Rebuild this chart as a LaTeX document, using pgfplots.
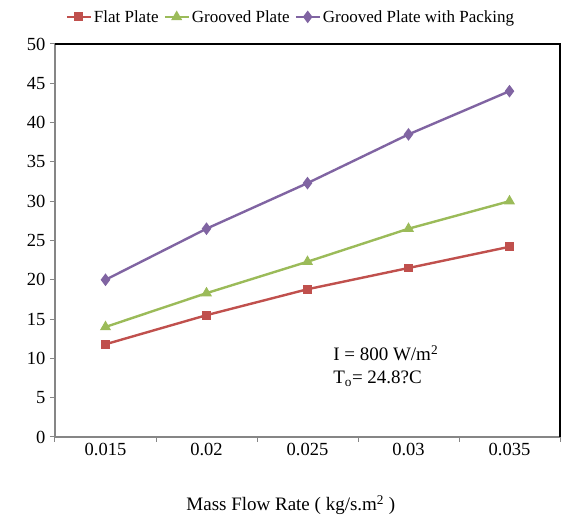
\documentclass[border=0pt]{standalone}
\usepackage{pgfplots}
\pgfplotsset{compat=1.18}
\usepackage{fontspec}
\setmainfont{Liberation Serif}

\definecolor{flatred}{RGB}{192,80,77}
\definecolor{groovegreen}{RGB}{155,187,89}
\definecolor{packpurple}{RGB}{128,100,162}
\definecolor{axisgray}{RGB}{134,134,134}

\begin{document}
\begin{tikzpicture}
\path[use as bounding box] (-55pt,-81pt) rectangle (518pt,437pt);
\begin{axis}[
  at={(0,0)}, anchor=south west,
  width=505pt, height=393pt, scale only axis,
  xmin=-0.5, xmax=4.5, ymin=0, ymax=50,
  font=\fontsize{18.5}{20}\selectfont,
  /pgf/number format/assume math mode=true,
  axis line style={axisgray, line width=1.2pt},
  tick align=outside, major tick length=5pt,
  tick style={axisgray, line width=1pt},
  xtick pos=bottom, ytick pos=left,
  ytick={0,5,...,50},
  xtick={-0.5,0.5,...,4.5}, xticklabels={},
  extra x ticks={0,1,2,3,4},
  extra x tick labels={0.015,0.02,0.025,0.03,0.035},
  extra x tick style={major tick length=0pt},
  xticklabel style={yshift=-3pt},
  yticklabel style={xshift=-1pt},
  legend columns=3,
  legend style={draw=none, fill=none, at={(axis description cs:0.467,1.069)}, anchor=center,
    font=\fontsize{17}{19}\selectfont,
    /tikz/every even column/.append style={column sep=3pt}},
  legend image code/.code={
    \draw[#1, mark repeat=2, mark phase=2] plot coordinates {(0cm,0cm) (0.42cm,0cm) (0.84cm,0cm)};},
  clip=false,
]
\addplot[flatred, line width=2.4pt, mark=square*, mark size=3.2pt, mark options={solid}]
  coordinates {(0,11.8) (1,15.5) (2,18.8) (3,21.5) (4,24.2)};
\addlegendentry{Flat Plate}
\addplot[groovegreen, line width=2.4pt, mark=triangle*, mark size=4pt, mark options={solid}]
  coordinates {(0,14.0) (1,18.3) (2,22.3) (3,26.5) (4,30.0)};
\addlegendentry{Grooved Plate\hspace{6pt}}
\addplot[packpurple, line width=2.4pt, mark=diamond*, mark size=4.4pt, mark options={solid}]
  coordinates {(0,20.0) (1,26.5) (2,32.3) (3,38.5) (4,44.0)};
\addlegendentry{Grooved Plate with Packing}

\draw[black, line width=1.5pt] (rel axis cs:0,1) -- (rel axis cs:1,1) -- (rel axis cs:1,0);
\node[anchor=west, align=left, font=\fontsize{19}{23}\selectfont] at (axis cs:2.22,9.0)
  {I = 800 W/m\textsuperscript{2}\\T\textsubscript{o}= 24.8?C};
\node[font=\fontsize{19}{21}\selectfont] at (axis description cs:0.467,-0.173)
  {Mass Flow Rate ( kg/s.m\textsuperscript{2} )};
\end{axis}
\end{tikzpicture}
\end{document}
